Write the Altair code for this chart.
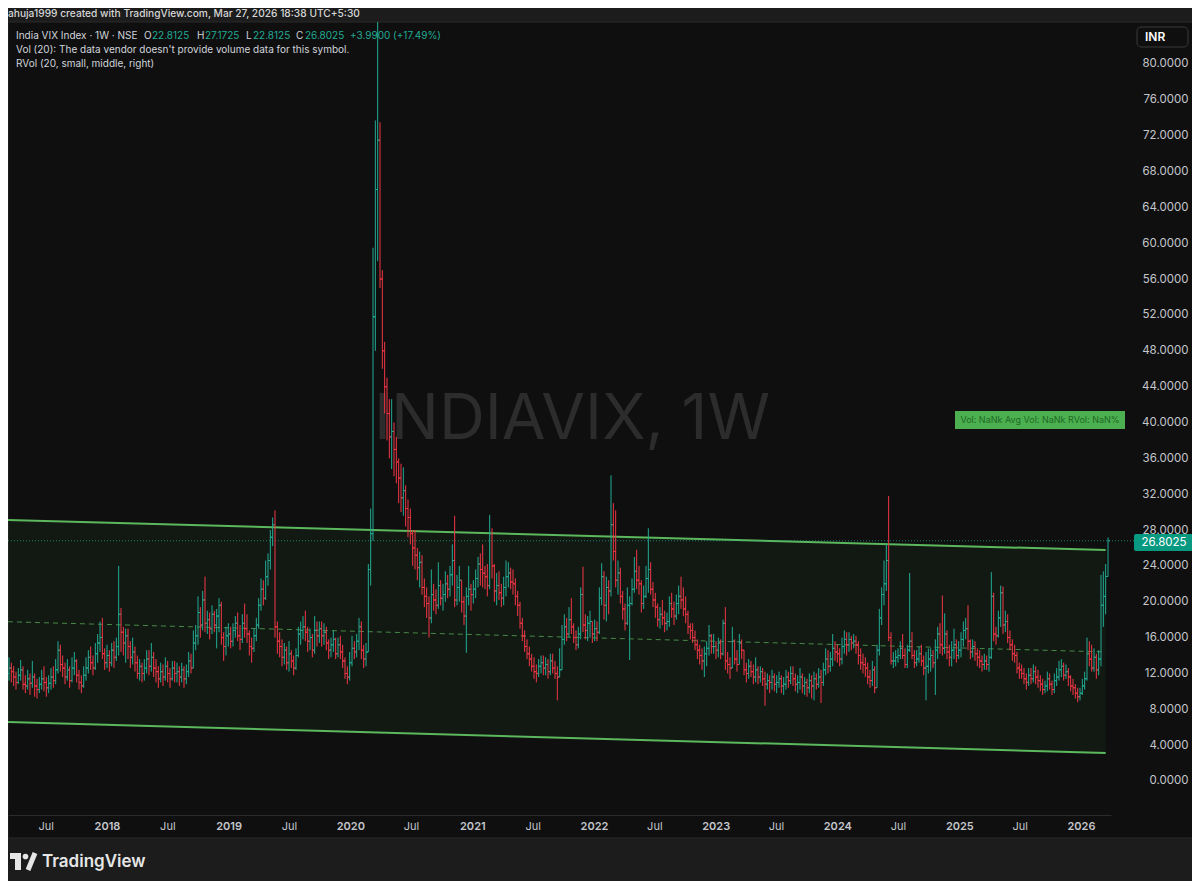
import altair as alt
import pandas as pd

FONT = "Inter"
FIRST_WEEK = "2017-03-13"
FIRST_OPEN = 12.0

# ---- weekly India VIX bars (close / high / low) ----
c2017 = [12.6, 12.2, 11.6, 11.0, 11.8, 12.4, 10.8, 10.6, 11.4, 10.9, 11.6, 10.6, 10.2, 10.8, 11.4, 11.0, 10.4, 10.9, 11.6, 11.2, 12.4,
         14.6, 13.0, 12.6, 11.6, 12.4, 11.2, 12.6, 13.4, 11.8, 11.0, 10.6, 11.8, 12.6, 13.8, 13.2, 12.6, 14.2, 15.4, 16.0, 14.2, 13.2]
h2017 = [13.8, 13.2, 12.8, 12.2, 12.6, 13.5, 12.8, 11.8, 12.4, 12.0, 13.4, 12.0, 11.4, 11.6, 12.4, 12.8, 11.6, 11.8, 12.6, 12.8, 13.6,
         15.6, 15.2, 14.0, 13.2, 13.6, 12.8, 13.8, 14.4, 13.6, 12.4, 11.8, 12.8, 13.8, 14.6, 15.0, 14.0, 15.4, 16.4, 17.8, 18.2, 14.8]
l2017 = [11.2, 11.0, 10.6, 10.2, 10.8, 11.2, 10.2, 9.8, 10.2, 9.6, 10.4, 9.4, 9.2, 9.8, 10.2, 10.0, 9.4, 9.8, 10.2, 10.4, 10.8,
         12.0, 12.2, 11.6, 10.8, 11.2, 10.4, 11.0, 11.8, 11.0, 10.2, 9.8, 10.4, 11.2, 12.0, 12.4, 11.8, 12.4, 13.2, 14.4, 13.6, 12.4]

c2018 = [14.0, 13.2, 14.6, 13.8, 15.0, 18.6, 16.6, 15.4, 16.2, 15.0, 13.8, 14.4, 13.2, 12.0, 12.8, 12.0, 12.6, 13.6, 12.8, 13.8,
         12.6, 12.2, 11.4, 12.2, 11.6, 12.8, 12.0, 11.4, 12.6, 12.0, 12.2, 11.6, 12.4, 11.4, 12.2, 13.4, 12.6, 15.4, 16.2, 18.8,
         17.4, 20.2, 17.6, 18.0, 17.0, 18.6, 17.4, 18.4, 19.6, 16.0, 15.0, 16.2]
h2018 = [15.2, 14.6, 15.4, 15.6, 16.0, 24.0, 19.3, 17.2, 17.0, 17.0, 15.6, 16.0, 15.0, 14.0, 13.6, 13.2, 13.6, 14.6, 14.6, 15.4,
         14.4, 13.6, 12.8, 13.2, 13.0, 13.8, 13.4, 12.6, 13.4, 13.4, 13.2, 12.8, 13.2, 12.8, 13.0, 14.4, 14.2, 16.8, 17.4, 20.6,
         19.4, 21.2, 22.8, 19.0, 18.8, 19.6, 19.0, 19.2, 20.4, 20.0, 16.6, 17.2]
l2018 = [12.6, 12.2, 12.8, 12.6, 13.4, 14.0, 14.4, 14.0, 13.2, 13.6, 12.6, 13.0, 12.2, 11.4, 11.2, 11.0, 11.2, 12.0, 11.8, 12.2,
         11.6, 11.0, 10.4, 11.0, 10.6, 11.2, 11.0, 10.4, 11.2, 11.0, 11.0, 10.6, 11.0, 10.4, 10.8, 11.6, 12.0, 12.8, 14.6, 15.2,
         16.0, 16.8, 16.6, 16.4, 15.8, 16.4, 16.6, 14.8, 16.6, 15.2, 13.4, 14.0]

c2019 = [16.4, 15.6, 16.8, 17.6, 16.2, 15.8, 17.6, 17.0, 16.4, 15.0, 14.8, 16.2, 17.4, 19.6, 21.4, 20.4, 22.8, 24.6, 27.2, 28.6,
         17.2, 15.6, 15.0, 13.8, 14.6, 13.2, 14.2, 13.4, 12.6, 14.0, 16.4, 16.8, 17.2, 16.6, 15.6, 16.0, 14.6, 16.8, 16.2, 17.0,
         16.2, 16.6, 15.4, 14.6, 15.2, 15.8, 14.2, 15.2, 14.4, 13.4, 12.0, 11.6]
h2019 = [17.6, 17.2, 17.6, 18.4, 18.8, 17.4, 18.6, 19.8, 18.6, 16.8, 16.0, 17.0, 18.2, 20.4, 22.6, 22.4, 24.6, 25.4, 28.0, 29.4,
         30.2, 17.8, 16.6, 15.8, 15.4, 15.0, 15.6, 14.6, 14.0, 14.8, 17.2, 17.8, 18.4, 19.0, 17.2, 17.0, 16.4, 18.4, 17.8, 17.8,
         17.8, 17.6, 17.2, 15.8, 16.0, 16.8, 16.0, 16.0, 16.2, 15.2, 13.8, 12.8]
l2019 = [15.0, 14.8, 15.0, 16.0, 15.6, 14.6, 15.4, 16.0, 15.4, 14.0, 13.2, 14.4, 15.6, 17.0, 19.0, 19.6, 20.2, 21.8, 23.6, 26.2,
         16.0, 14.2, 13.8, 12.8, 13.0, 12.4, 12.2, 12.6, 11.8, 12.4, 13.8, 15.2, 15.8, 15.6, 14.4, 14.6, 13.8, 14.2, 15.0, 15.4,
         15.0, 15.2, 14.6, 13.6, 13.8, 14.4, 13.6, 13.8, 13.6, 12.6, 11.4, 10.8]

c2020 = [13.2, 14.8, 14.4, 15.6, 17.2, 14.6, 13.6, 14.4, 23.6, 27.6, 51.8, 66.0, 71.5, 56.0, 48.0, 44.0, 41.0, 38.4, 39.0, 37.0,
         35.6, 33.8, 31.6, 32.4, 30.4, 29.4, 27.6, 26.0, 25.2, 23.8, 24.4, 21.6, 20.6, 19.8, 18.2, 20.8, 20.2, 19.6, 21.8, 20.4,
         20.8, 22.0, 21.4, 23.0, 24.6, 20.2, 21.6, 22.4, 20.0, 18.4, 20.6, 21.4]
h2020 = [14.4, 16.2, 15.6, 16.4, 18.2, 17.8, 15.2, 15.4, 24.2, 30.4, 59.5, 73.7, 86.6, 73.5, 57.0, 49.0, 45.0, 42.6, 42.6, 40.0,
         38.4, 36.0, 35.4, 35.0, 33.0, 31.4, 30.4, 28.0, 28.0, 26.0, 25.6, 25.2, 22.6, 21.6, 20.6, 23.6, 22.0, 21.4, 24.4, 22.4,
         22.0, 23.4, 23.0, 24.0, 26.4, 29.6, 23.0, 24.0, 22.4, 20.6, 21.6, 24.0]
l2020 = [11.2, 12.8, 13.6, 13.8, 14.6, 13.6, 12.6, 12.8, 14.6, 21.8, 26.8, 48.0, 58.0, 55.0, 46.0, 41.0, 38.0, 36.0, 34.8, 34.0,
         33.2, 31.0, 30.0, 29.6, 28.4, 27.2, 26.4, 24.0, 23.6, 22.4, 21.6, 20.8, 19.4, 18.2, 16.0, 17.6, 19.0, 18.6, 19.2, 19.6,
         19.0, 20.0, 20.4, 20.6, 21.8, 19.4, 19.6, 20.0, 18.8, 17.4, 14.3, 19.6]

c2021 = [20.8, 21.4, 22.6, 24.2, 23.6, 23.2, 22.8, 21.8, 27.6, 24.0, 21.2, 21.8, 21.0, 20.4, 21.6, 22.8, 23.2, 22.2, 22.0, 20.6,
         19.6, 17.6, 16.2, 15.0, 14.2, 13.6, 12.8, 12.2, 12.0, 12.8, 13.2, 12.6, 13.0, 12.2, 13.4, 12.6, 12.0, 11.6, 12.4, 15.8,
         17.2, 16.4, 18.0, 17.2, 16.0, 15.2, 16.4, 20.8, 17.4, 16.8, 17.6, 17.8]
h2021 = [22.0, 22.4, 23.6, 25.0, 25.4, 26.4, 24.0, 24.2, 29.7, 28.2, 24.2, 23.2, 23.4, 22.0, 22.8, 24.6, 24.4, 23.8, 23.6, 22.6,
         21.2, 20.0, 18.2, 16.8, 15.8, 15.0, 14.2, 13.8, 13.0, 13.6, 14.0, 14.0, 13.8, 13.6, 14.2, 14.2, 13.4, 12.8, 14.8, 17.4,
         18.6, 18.2, 19.4, 20.4, 17.6, 16.8, 17.2, 21.6, 23.9, 18.6, 18.4, 19.0]
l2021 = [19.0, 19.8, 20.4, 21.6, 21.8, 21.6, 21.4, 20.6, 21.4, 22.6, 20.0, 19.6, 20.2, 19.4, 19.6, 20.6, 21.6, 21.4, 20.8, 19.6,
         18.4, 17.0, 15.6, 14.4, 13.6, 12.8, 12.2, 11.4, 11.0, 11.6, 12.0, 11.8, 11.8, 11.4, 11.8, 12.0, 11.4, 9.0, 11.6, 12.6,
         15.2, 15.6, 16.0, 16.4, 15.4, 14.6, 14.8, 15.8, 16.6, 15.8, 15.6, 16.0]

c2022 = [16.4, 17.0, 16.6, 20.4, 22.8, 19.6, 21.6, 21.2, 28.6, 25.6, 22.4, 23.2, 20.6, 19.2, 17.6, 19.6, 19.8, 21.4, 23.4, 22.4,
         22.0, 19.8, 20.6, 22.6, 23.6, 21.4, 20.2, 19.4, 18.0, 18.6, 18.2, 17.6, 17.8, 19.8, 19.2, 18.4, 19.8, 20.6, 20.2, 19.2,
         18.6, 17.2, 16.8, 16.0, 15.2, 14.6, 14.0, 13.4, 14.2, 14.8, 16.2, 15.0]
h2022 = [17.6, 18.0, 17.8, 21.6, 24.3, 23.4, 22.8, 22.4, 34.1, 31.0, 30.2, 24.6, 23.8, 21.2, 19.8, 21.6, 20.6, 22.6, 25.0, 25.8,
         24.0, 22.4, 21.8, 24.0, 28.2, 24.4, 22.2, 21.0, 19.8, 19.4, 20.2, 19.0, 18.8, 20.6, 21.0, 20.0, 20.8, 21.8, 22.8, 21.6,
         20.6, 19.0, 17.6, 17.6, 16.8, 15.8, 15.2, 14.8, 15.0, 15.6, 17.4, 16.4]
l2022 = [15.4, 15.6, 15.6, 16.4, 19.6, 18.0, 17.8, 18.6, 20.6, 24.6, 21.6, 20.8, 19.8, 18.0, 16.8, 17.4, 13.5, 19.6, 21.0, 21.4,
         20.8, 18.8, 19.2, 20.4, 21.0, 20.8, 19.4, 18.2, 17.2, 17.0, 17.4, 16.6, 16.8, 17.2, 18.2, 17.4, 18.0, 18.6, 19.2, 18.4,
         17.6, 16.4, 15.8, 15.4, 14.6, 13.6, 13.0, 12.4, 11.6, 12.8, 14.0, 14.2]

c2023 = [15.0, 14.6, 15.4, 14.2, 17.6, 13.4, 13.0, 12.6, 15.6, 13.6, 13.0, 15.4, 14.6, 12.4, 12.0, 12.8, 12.2, 11.6, 12.4, 11.6,
         12.2, 11.4, 10.8, 11.2, 11.0, 11.6, 10.8, 11.0, 11.4, 10.6, 10.8, 11.6, 11.2, 12.0, 11.4, 10.8, 11.0, 11.6, 10.6, 11.0,
         10.4, 11.2, 10.6, 11.4, 10.8, 11.6, 11.0, 12.4, 13.6, 12.8, 13.6, 14.8]
h2023 = [16.4, 15.6, 16.0, 15.8, 18.0, 19.4, 14.4, 13.8, 17.2, 15.8, 14.6, 16.4, 15.8, 14.6, 13.2, 13.6, 13.4, 13.0, 13.8, 12.8,
         12.8, 12.6, 12.2, 12.0, 11.8, 12.4, 12.0, 11.8, 12.2, 11.8, 11.6, 12.4, 12.2, 12.8, 12.8, 12.0, 11.8, 12.6, 12.0, 11.6,
         11.4, 12.0, 11.8, 12.2, 12.0, 12.6, 12.4, 13.2, 14.8, 14.6, 14.4, 16.4]
l2023 = [14.2, 13.6, 13.8, 13.6, 14.0, 12.4, 12.0, 11.4, 12.6, 13.0, 12.2, 13.2, 13.6, 11.8, 11.0, 11.4, 11.6, 10.8, 11.0, 10.8,
         11.0, 10.6, 8.4, 10.2, 9.8, 10.2, 10.0, 9.8, 10.4, 9.8, 9.6, 10.2, 10.4, 10.8, 10.6, 10.0, 9.8, 10.2, 9.8, 9.6,
         9.4, 9.8, 9.2, 9.0, 10.2, 10.4, 8.7, 10.6, 11.8, 12.0, 12.2, 12.8]

c2024 = [14.4, 14.2, 13.6, 15.0, 15.8, 15.2, 15.8, 15.4, 15.6, 15.2, 14.0, 13.2, 13.0, 12.6, 11.6, 11.2, 12.4, 10.4, 14.6, 18.2,
         20.8, 22.0, 24.6, 16.0, 13.4, 13.4, 13.8, 14.0, 14.8, 14.0, 13.0, 14.6, 15.6, 14.0, 13.2, 13.6, 14.2, 13.4, 12.6, 12.8,
         13.6, 14.0, 13.2, 14.6, 16.4, 15.2, 14.8, 16.4, 14.4, 13.8, 14.6, 15.2, 14.0]
h2024 = [15.6, 15.2, 14.8, 16.0, 16.8, 16.6, 16.6, 16.2, 16.4, 16.2, 15.6, 14.8, 14.2, 13.8, 13.2, 12.4, 13.4, 12.8, 15.2, 19.2,
         21.6, 24.6, 26.5, 31.8, 16.6, 14.4, 14.6, 14.8, 15.6, 16.4, 14.8, 15.2, 23.2, 16.6, 14.6, 14.6, 15.0, 15.2, 14.0, 14.4,
         14.8, 14.8, 14.6, 15.8, 17.2, 17.6, 20.7, 18.7, 16.8, 15.2, 15.6, 17.0, 15.8]
l2024 = [13.4, 13.2, 12.8, 13.0, 14.2, 14.0, 14.4, 14.6, 14.8, 14.2, 13.0, 12.4, 12.0, 11.6, 10.8, 10.4, 10.6, 9.8, 10.6, 14.0,
         17.4, 19.6, 21.2, 15.6, 13.0, 12.6, 12.8, 13.2, 13.6, 13.6, 12.6, 12.6, 14.4, 13.6, 12.6, 12.8, 13.2, 12.8, 11.8, 9.0,
         12.0, 12.2, 12.6, 9.6, 13.6, 14.2, 14.0, 14.2, 13.6, 12.8, 12.8, 13.6, 13.2]

c2025 = [14.6, 15.8, 16.8, 17.0, 15.6, 14.4, 15.0, 14.2, 13.8, 13.4, 13.0, 13.4, 13.0, 13.8, 20.6, 16.4, 16.2, 18.2, 21.0, 17.4,
         17.8, 16.0, 15.2, 14.2, 14.0, 12.6, 12.4, 12.0, 11.4, 11.0, 11.8, 11.4, 12.2, 11.6, 11.2, 10.8, 10.2, 10.6, 11.4, 10.8,
         10.2, 11.2, 11.6, 12.4, 12.8, 11.8, 12.2, 11.6, 10.6, 10.4, 9.8, 9.4]
h2025 = [15.6, 16.6, 17.8, 18.2, 19.6, 15.8, 15.8, 15.6, 14.8, 14.6, 14.0, 14.2, 14.0, 14.8, 23.3, 21.0, 17.2, 19.0, 21.8, 21.7,
         19.0, 18.6, 16.8, 15.8, 15.2, 14.4, 13.2, 13.0, 12.6, 12.0, 12.6, 12.6, 13.0, 12.8, 12.4, 11.8, 11.4, 11.2, 12.2, 12.0,
         11.2, 12.0, 12.6, 13.4, 13.6, 13.2, 13.0, 12.6, 11.8, 11.4, 10.8, 10.4]
l2025 = [13.6, 13.8, 15.0, 15.8, 14.6, 13.6, 13.8, 13.4, 12.8, 12.6, 12.2, 12.4, 12.4, 12.2, 13.6, 15.6, 15.2, 16.0, 17.2, 16.4,
         16.6, 15.4, 14.6, 13.4, 13.2, 12.0, 11.4, 11.4, 10.8, 10.2, 10.6, 10.8, 11.0, 10.8, 10.4, 10.0, 9.6, 9.8, 10.0, 10.2,
         9.6, 9.8, 10.6, 11.2, 11.6, 11.2, 11.4, 10.6, 10.0, 9.6, 9.2, 8.8]

c2026 = [9.8, 10.6, 11.4, 14.2, 13.6, 12.6, 13.8, 12.4, 13.6, 19.6, 20.6, 22.8125, 26.8025]
h2026 = [10.4, 11.4, 12.2, 16.0, 15.6, 15.2, 14.8, 14.2, 14.6, 23.0, 23.4, 24.2, 27.1725]
l2026 = [9.0, 9.6, 10.2, 11.2, 12.8, 12.2, 12.2, 11.4, 11.8, 12.8, 17.2, 18.6, 22.8125]

# ---- parallel channel drawn on the chart (dates and prices at its two ends) ----
chan_dates = ["2017-03-10", "2026-03-16"]
chan_upper = [29.12, 25.77]
chan_lower = [6.58, 3.12]
chan_mid = [17.77, 14.40]
last_close = 26.8025

# axis ticks
price_ticks = [0, 4, 8, 12, 16, 20, 24, 28, 32, 36, 40, 44, 48, 52, 56, 60, 64, 68, 72, 76, 80]
year_ticks = [2018, 2019, 2020, 2021, 2022, 2023, 2024, 2025, 2026]
jul_ticks = [2017, 2018, 2019, 2020, 2021, 2022, 2023, 2024, 2025]

# ---- colours ----
BG = "#0f0f0f"
FRAME = "#1c1c1c"
BORDER = "#2b2b2b"
UP = "#22ab94"
DOWN = "#f23645"
TXT = "#d1d4dc"
AXT = "#c4c7cc"
CH = "#5cb85c"

closes = c2017 + c2018 + c2019 + c2020 + c2021 + c2022 + c2023 + c2024 + c2025 + c2026
highs = h2017 + h2018 + h2019 + h2020 + h2021 + h2022 + h2023 + h2024 + h2025 + h2026
lows = l2017 + l2018 + l2019 + l2020 + l2021 + l2022 + l2023 + l2024 + l2025 + l2026
opens = [FIRST_OPEN] + closes[:-1]
dates = pd.date_range(FIRST_WEEK, periods=len(closes), freq="7D")

df = pd.DataFrame({"date": dates, "open": opens, "close": closes, "high": highs, "low": lows})
df["high"] = df[["high", "open", "close"]].max(axis=1)
df["low"] = df[["low", "open", "close"]].min(axis=1)
df["dir"] = ["up" if c >= o else "down" for o, c in zip(df["open"], df["close"])]

chan = pd.DataFrame({"date": pd.to_datetime(chan_dates), "upper": chan_upper, "lower": chan_lower, "mid": chan_mid})
one = pd.DataFrame({"k": [0]})

W, H = 1103, 793
xscale = alt.Scale(domain=[alt.DateTime(year=2017, month=3, date=10), alt.DateTime(year=2026, month=4, date=1)])
yscale = alt.Scale(domain=[-3.794, 84.686], nice=False, zero=False)

tick_vals = [alt.DateTime(year=y, month=7, date=1) for y in jul_ticks] + [alt.DateTime(year=y, month=1, date=1) for y in year_ticks]

xaxis = alt.Axis(
    values=tick_vals,
    labelExpr="month(datum.value) == 0 ? timeFormat(datum.value, '%Y') : 'Jul'",
    ticks=False, grid=False, domain=True, domainColor=BORDER, domainWidth=1,
    labelFont=FONT, labelFontSize=11, labelColor=AXT, labelPadding=11.5, labelBaseline="middle",
    labelFontWeight={"condition": {"test": "month(datum.value) == 0", "value": 600}, "value": 400},
    labelFlush=False, labelOverlap=False, title=None,
)
yaxis = alt.Axis(
    orient="right", values=price_ticks, format=".4f", ticks=False, grid=False, domain=False,
    labelFont=FONT, labelFontSize=11.5, labelColor=AXT, labelAlign="right", labelPadding=77,
    labelBaseline="middle", title=None,
)


def txt(s, x, y, color=TXT, size=10, weight=400, align="left", baseline="middle", font=FONT):
    return alt.Chart(one).mark_text(text=s, align=align, baseline=baseline, font=font, fontSize=size,
                                    fontWeight=weight, color=color).encode(x=alt.value(x), y=alt.value(y))


def box(x1, x2, y1, y2, fill, stroke=None, radius=0):
    kw = dict(color=fill, cornerRadius=radius)
    if stroke:
        kw.update(stroke=stroke, strokeWidth=1)
    return alt.Chart(one).mark_rect(**kw).encode(x=alt.value(x1), x2=alt.value(x2), y=alt.value(y1), y2=alt.value(y2))


def line(x1, x2, y1, y2, color, width=1):
    return alt.Chart(one).mark_rule(color=color, strokeWidth=width).encode(
        x=alt.value(x1), x2=alt.value(x2), y=alt.value(y1), y2=alt.value(y2))


frame = [
    box(0, 1184, -14, 0, FRAME),
    box(0, 1184, 816, 870, FRAME),
    line(0, 1184, 0, 0, BORDER),
    line(0, 1184, 816, 816, BORDER),
    line(0, 0, 0, 816, BORDER),
]

X = alt.X("date:T", scale=xscale, axis=xaxis)

fill = alt.Chart(chan).mark_area(color="#4caf50", opacity=0.07, clip=True).encode(
    x=X, y=alt.Y("lower:Q", scale=yscale, axis=yaxis), y2="upper:Q")

watermark = txt("INDIAVIX, 1W", 572 - 8, 398, color="#2c2c2c", size=63.5, weight=400, align="center")

up_line = alt.Chart(chan).mark_line(color=CH, strokeWidth=2, clip=True).encode(
    x=X, y=alt.Y("upper:Q", scale=yscale, axis=yaxis))
lo_line = alt.Chart(chan).mark_line(color=CH, strokeWidth=2, clip=True).encode(
    x=X, y=alt.Y("lower:Q", scale=yscale, axis=yaxis))
mid_line = alt.Chart(chan).mark_line(color=CH, strokeWidth=1, strokeDash=[5, 4], opacity=0.7, clip=True).encode(
    x=X, y=alt.Y("mid:Q", scale=yscale, axis=yaxis))

price_line = alt.Chart(one).mark_rule(color=UP, strokeWidth=1, strokeDash=[1, 2], opacity=0.7).encode(
    x=alt.value(0), x2=alt.value(1126), y=alt.Y(datum=last_close, scale=yscale, axis=yaxis))

col = alt.Color("dir:N", scale=alt.Scale(domain=["up", "down"], range=[UP, DOWN]), legend=None)

bars = alt.Chart(df).mark_rule(strokeWidth=1, clip=True).encode(
    x=X, y=alt.Y("low:Q", scale=yscale, axis=yaxis), y2="high:Q", color=col)
open_ticks = alt.Chart(df).mark_tick(orient="horizontal", size=2, thickness=1, xOffset=-1, opacity=1, clip=True).encode(
    x=X, y=alt.Y("open:Q", scale=yscale, axis=yaxis), color=col)
close_ticks = alt.Chart(df).mark_tick(orient="horizontal", size=2, thickness=1, xOffset=1, opacity=1, clip=True).encode(
    x=X, y=alt.Y("close:Q", scale=yscale, axis=yaxis), color=col)

texts = [
    txt("ahuja1999 created with TradingView.com, Mar 27, 2026 18:38 UTC+5:30", 0, -8.5, color="#d6d6d6", size=10.2, weight=500),
    txt("India VIX Index · 1W · NSE", 8, 13.5),
    txt("O", 136, 13.5), txt("22.8125", 144, 13.5, color=UP),
    txt("H", 189, 13.5), txt("27.1725", 197, 13.5, color=UP),
    txt("L", 238, 13.5), txt("22.8125", 245, 13.5, color=UP),
    txt("C", 288, 13.5), txt("26.8025", 297, 13.5, color=UP),
    txt("+3.9900 (+17.49%)", 342, 13.5, color=UP),
    txt("Vol (20): The data vendor doesn't provide volume data for this symbol.", 8, 28),
    txt("RVol (20, small, middle, right)", 8, 42),
    box(947, 1117, 389, 407, "#4caf50"),
    txt("Vol: NaNk    Avg Vol: NaNk    RVol: NaN%", 1032, 398, color="#1e6b24", size=9, align="center"),
    box(1126, 1186, 512, 529, "#089981", radius=2),
    txt("26.8025", 1156, 521, color="#ffffff", size=11.5, align="center"),
    box(1129, 1180, 5, 25, BG, stroke="#3a3a3a", radius=4),
    txt("INR", 1137, 15, color="#ffffff", size=12, weight=600),
    # TradingView logo
    box(2, 13, 831, 837, "#e6e6e6"),
    box(7, 13, 831, 848, "#e6e6e6"),
    alt.Chart(one).mark_point(filled=True, size=32, color="#e6e6e6", opacity=1).encode(x=alt.value(17.5), y=alt.value(834.5)),
    alt.Chart(one).mark_rule(color="#e6e6e6", strokeWidth=5).encode(
        x=alt.value(20), x2=alt.value(27), y=alt.value(848), y2=alt.value(831)),
    txt("TradingView", 34, 840, color="#e6e6e6", size=17, weight=600),
]

chart = alt.layer(
    *frame, fill, watermark, up_line, lo_line, mid_line, price_line, bars, open_ticks, close_ticks, *texts
).properties(
    width=W, height=H,
    autosize=alt.AutoSizeParams(type="none"),
    padding={"left": 0, "top": 14, "right": 81, "bottom": 66},
).configure(background=BG).configure_view(stroke=None)

chart.save("out.html", embed_options={"renderer": "svg", "actions": False})
